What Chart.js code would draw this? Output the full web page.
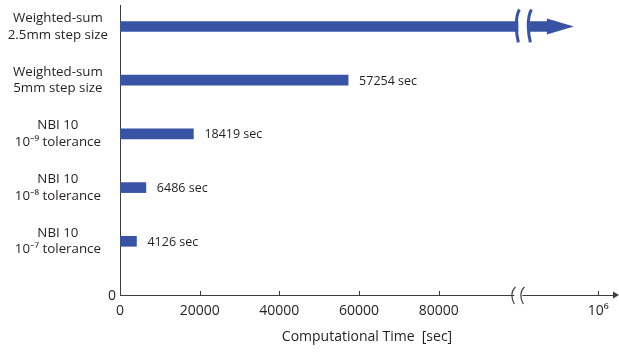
<!DOCTYPE html>
<html>
<head>
<meta charset="utf-8">
<script src="https://cdn.jsdelivr.net/npm/chart.js@4/dist/chart.umd.min.js"></script>
<style>
html,body{margin:0;padding:0;background:#fff;}
#wrap{width:619px;height:352px;position:relative;}
</style>
</head>
<body>
<div id="wrap"><canvas id="c" width="619" height="352"></canvas></div>
<script>
// ---- data ----
const categories = [
  ["Weighted-sum", "2.5mm step size"],
  ["Weighted-sum", "5mm step size"],
  ["NBI 10", "10\u207B\u2079 tolerance"],
  ["NBI 10", "10\u207B\u2078 tolerance"],
  ["NBI 10", "10\u207B\u2077 tolerance"]
];
// computational times in seconds (first one is off-scale, beyond the axis break)
const times = [null, 57254, 18419, 6486, 4126];
// drawn length of the off-scale bar (in broken-axis units, before the arrow head)
const offScaleDrawnValue = 107400;
const xTickValues = [0, 20000, 40000, 60000, 80000, 120000];
const xTickLabels = ["0", "20000", "40000", "60000", "80000", "10\u2076"];
const axisBreakValue = 100000;

const BLUE = '#3953a4';
const TXT = '#231f20';
const AX = '#3d3d3d';
const FONT = "'Open Sans', 'Noto Sans', sans-serif";

const n = categories.length;
const barData = times.map((t, i) => ({ x: t === null ? offScaleDrawnValue : t, y: n - i }));
const valueLabels = times.map(t => t === null ? '' : t + ' sec');

const decorPlugin = {
  id: 'decor',
  afterDatasetsDraw(chart) {
    const ctx = chart.ctx;
    const xs = chart.scales.x, ys = chart.scales.y;
    const meta = chart.getDatasetMeta(0);
    ctx.save();
    // value labels
    ctx.font = "12.5px " + FONT;
    ctx.fillStyle = TXT;
    ctx.textBaseline = 'middle';
    ctx.textAlign = 'left';
    meta.data.forEach((bar, i) => {
      if (valueLabels[i]) ctx.fillText(valueLabels[i], bar.x + 11, bar.y + 1);
    });
    // arrow head + break on off-scale bar
    times.forEach((t, i) => {
      if (t !== null) return;
      const bar = meta.data[i];
      const h = bar.height;
      ctx.fillStyle = BLUE;
      ctx.beginPath();
      ctx.moveTo(bar.x - 1, bar.y - 8);
      ctx.lineTo(bar.x + 26, bar.y);
      ctx.lineTo(bar.x - 1, bar.y + 8);
      ctx.closePath();
      ctx.fill();
      const bx = xs.getPixelForValue(axisBreakValue);
      ctx.fillStyle = '#fff';
      ctx.fillRect(bx + 0, bar.y - h / 2 - 1, 11, h + 2);
      ctx.strokeStyle = BLUE;
      ctx.lineWidth = 3;
      [bx - 1, bx + 11].forEach(cx => {
        ctx.beginPath();
        ctx.moveTo(cx + 2, bar.y - 17);
        ctx.bezierCurveTo(cx - 3, bar.y - 8, cx - 1, bar.y + 8, cx + 1, bar.y + 16);
        ctx.stroke();
      });
    });
    // x axis: tick marks, break, arrow
    const ay = xs.top;
    ctx.strokeStyle = AX;
    ctx.lineWidth = 1;
    xs.ticks.forEach(tk => {
      if (tk.value === 0) return;
      const px = Math.round(xs.getPixelForValue(tk.value)) + 0.5;
      ctx.beginPath();
      ctx.moveTo(px, ay);
      ctx.lineTo(px, ay - 4);
      ctx.stroke();
    });
    const abx = xs.getPixelForValue(axisBreakValue) - 4;
    ctx.fillStyle = '#fff';
    ctx.fillRect(abx, ay - 2, 8, 4);
    ctx.strokeStyle = AX;
    ctx.lineWidth = 1.2;
    [abx - 1, abx + 8].forEach(cx => {
      ctx.beginPath();
      ctx.moveTo(cx + 2, ay - 8);
      ctx.bezierCurveTo(cx - 3, ay - 3, cx - 2, ay + 4, cx + 1, ay + 9);
      ctx.stroke();
    });
    ctx.fillStyle = AX;
    ctx.beginPath();
    ctx.moveTo(xs.right - 1, ay - 3.5);
    ctx.lineTo(xs.right + 5, ay);
    ctx.lineTo(xs.right - 1, ay + 3.5);
    ctx.closePath();
    ctx.fill();
    // y-axis "0"
    ctx.font = "14px " + FONT;
    ctx.fillStyle = TXT;
    ctx.textAlign = 'right';
    ctx.textBaseline = 'middle';
    ctx.fillText('0', ys.left + ys.width - 4, ys.getPixelForValue(0) + 1);
    ctx.restore();
  }
};

new Chart(document.getElementById('c'), {
  type: 'bar',
  data: {
    datasets: [{
      data: barData,
      backgroundColor: BLUE,
      borderWidth: 0,
      barThickness: 10
    }]
  },
  options: {
    indexAxis: 'y',
    responsive: false,
    animation: false,
    layout: { padding: { top: 5, right: 5, left: 0, bottom: 0 } },
    plugins: { legend: { display: false }, tooltip: { enabled: false } },
    scales: {
      x: {
        type: 'linear',
        min: 0,
        max: 124000,
        grid: { display: false, drawTicks: false },
        border: { display: true, color: AX, width: 1 },
        afterBuildTicks: s => { s.ticks = xTickValues.map(v => ({ value: v })); },
        afterFit: s => { s.height = 57; s.paddingLeft = 0; s.paddingRight = 0; },
        ticks: {
          padding: 8,
          color: TXT,
          font: { family: FONT, size: 14 },
          maxRotation: 0,
          autoSkip: false,
          callback: v => xTickLabels[xTickValues.indexOf(v)]
        },
        title: {
          display: true,
          text: 'Computational Time  [sec]',
          color: TXT,
          font: { family: FONT, size: 14 },
          padding: { top: 2, bottom: 7 }
        }
      },
      y: {
        type: 'linear',
        offset: false,
        min: 0,
        max: 5.4,
        grid: { display: false, drawTicks: false, offset: false },
        border: { display: true, color: AX, width: 1 },
        afterBuildTicks: s => { s.ticks = categories.map((c, i) => ({ value: n - i })); },
        afterFit: s => { s.width = 120; s.paddingTop = 0; s.paddingBottom = 0; },
        ticks: {
          crossAlign: 'center',
          padding: 12,
          color: TXT,
          font: { family: FONT, size: 13.3, lineHeight: 1.25 },
          autoSkip: false,
          callback: v => categories[n - v]
        }
      }
    }
  },
  plugins: [decorPlugin]
});
</script>
</body>
</html>
